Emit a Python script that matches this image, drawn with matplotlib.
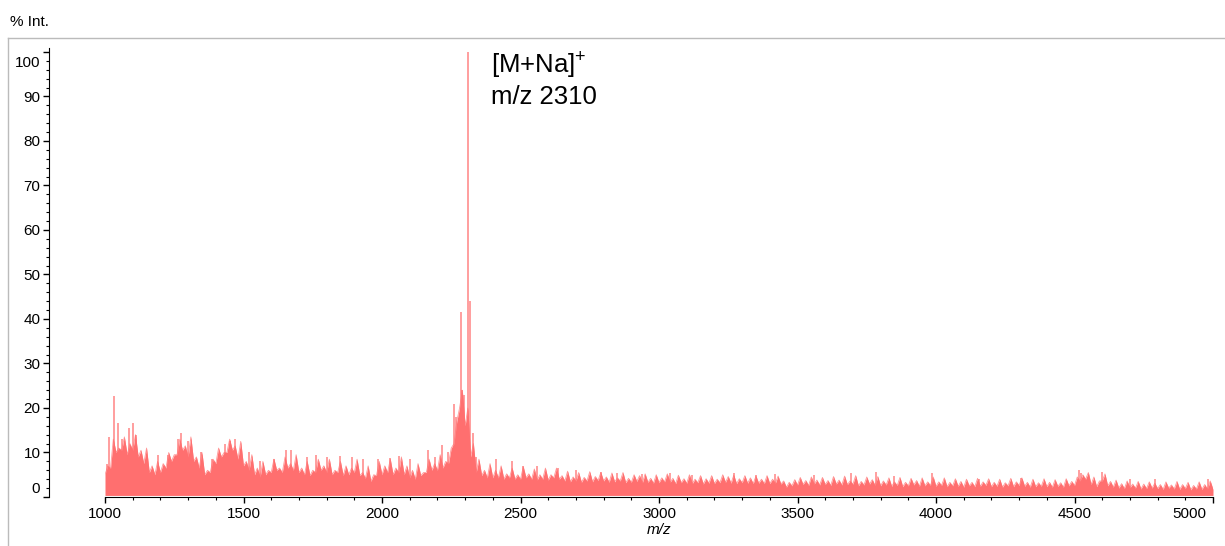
import numpy as np
import matplotlib.pyplot as plt
from matplotlib.lines import Line2D
from matplotlib.ticker import MultipleLocator, FuncFormatter

plt.rcParams['font.family'] = ['Liberation Sans', 'DejaVu Sans']
plt.rcParams['mathtext.fontset'] = 'custom'
plt.rcParams['mathtext.rm'] = 'Liberation Sans'

# lower body of the spectrum, one value every 20 m/z from 1000 to 5000
mz_start, mz_step = 1000, 20
body = [
    5, 6.5, 10, 10.5, 9.5, 10.5, 9, 7.5, 5.5, 5,
    5.5, 6.5, 8, 9.5, 10.5, 9, 8, 6.5, 5, 5.5,
    7.5, 9, 10, 10.5, 8.5, 7, 6, 5, 4.5, 5,
    5.5, 6, 5.5, 6.5, 6, 5.5, 5, 4.8, 5.5, 6,
    5.5, 5, 5.5, 4.8, 5, 5.5, 4.8, 4.2, 3.5, 4.8,
    5, 5.5, 5, 5.5, 5, 4.3, 4, 4.8, 5.5, 6,
    6, 6.5, 7.5, 12, 20, 16, 9, 5.5, 4.8, 4.3,
    4.3, 4.3, 4, 4.3, 4, 4, 4.3, 4, 3.8, 4,
    3.8, 4.3, 4, 3.6, 3.4, 3.6, 3.3, 3.6, 3.4, 3.7,
    3.6, 3.3, 3.4, 3.6, 3.2, 3.3, 3.5, 3.2, 3.3, 3.1,
    3.2, 3.4, 3.3, 3, 3.2, 3.1, 3, 3.2, 2.9, 3.1,
    3, 3.2, 3.3, 3.1, 3, 3.2, 3.1, 3, 3.1, 3,
    3, 3.1, 2.9, 2.2, 2.5, 2.7, 2.8, 2.6, 2.9, 2.7,
    2.8, 2.6, 2.9, 2.7, 2.8, 2.9, 2.5, 2.7, 2.9, 2.6,
    2.5, 2.7, 2.4, 2.6, 2.3, 2.5, 2.7, 2.4, 2.5, 2.6,
    2.4, 2.6, 2.3, 2.5, 2.4, 2.2, 2.5, 2.3, 2.4, 2.6,
    2.3, 2.4, 2.2, 2.5, 2.3, 2.6, 2.4, 2.2, 2.3, 2.4,
    2.3, 2.2, 2.4, 2.2, 2.5, 2.6, 3.6, 4, 2.8, 2.3,
    3.6, 2.5, 2.2, 2, 1.9, 2.1, 2, 1.8, 1.9, 2,
    1.9, 1.7, 2, 1.8, 1.7, 1.9, 1.6, 1.8, 1.7, 1.8,
    1.7,
]
body_mz = mz_start + mz_step * np.arange(len(body))

# noise tips between the body points (1010, 1030, ... 4990)
tips = [
    7, 13, 11, 13.5, 12, 14, 10.5, 11, 7, 8,
    7.5, 10, 9.5, 13, 11.5, 13.5, 9, 10, 6, 8.5,
    11, 10, 13, 11.5, 12.5, 8, 9.5, 6.5, 8, 6,
    8.5, 6.5, 9, 7.5, 9.5, 6.5, 8, 6, 8.5, 7,
    8.5, 6, 8, 7, 6.5, 8.5, 5.5, 7, 5, 8,
    7, 8.5, 6.5, 9, 7, 6, 7.5, 5.5, 8.5, 7.5,
    9.5, 8, 11, 17, 24, 20, 12, 8.5, 6, 7.5,
    6, 7, 5.2, 6.5, 5, 6.8, 5.2, 6.3, 5, 6.5,
    5, 6.5, 4.8, 5.8, 4.5, 5.5, 4.4, 5.7, 4.6, 5.5,
    4.5, 5.4, 4.3, 5.5, 4.2, 5, 4.8, 5.2, 4.2, 5,
    4.3, 5.2, 4.2, 4.9, 4.1, 5, 4, 4.8, 4.1, 4.8,
    4, 5, 4.6, 4.9, 4.1, 4.8, 4.3, 4.7, 4, 4.8,
    4, 4.7, 3.6, 3.3, 3.9, 4.4, 3.7, 4.5, 3.8, 4.4,
    3.7, 4.6, 3.8, 4.7, 3.6, 4.8, 3.5, 4.5, 3.9, 4.6,
    3.6, 4.3, 3.4, 4.4, 3.3, 4.2, 3.7, 4.3, 3.4, 4.5,
    3.4, 4.3, 3.3, 4.1, 3.5, 4, 3.3, 4.2, 3.4, 4.1,
    3.3, 4, 3.2, 4.2, 3.4, 4.3, 3.3, 4, 3.2, 4.1,
    3.3, 3.9, 3.2, 4.1, 3.5, 4.5, 5, 5.5, 4.5, 3.6,
    5.2, 3.5, 3.8, 3, 3.6, 2.9, 3.5, 2.9, 3.4, 3.1,
    2.8, 3.4, 2.7, 3.5, 2.8, 3.3, 2.6, 3.4, 2.8, 3.6,
]
tips_mz = mz_start + mz_step // 2 + mz_step * np.arange(len(tips))

# individual peaks standing above the baseline
peak_mz = [1008, 1016, 1032, 1048, 1062, 1087, 1101, 1112, 1190, 1228,
           1262, 1275, 1300, 1345, 1388, 1432, 1450, 1470, 1520, 1560,
           1610, 1655, 1670, 1730, 1760, 1800, 1848, 1890, 1930, 1985,
           2030, 2060, 2100, 2165, 2190, 2215, 2240, 2259, 2268, 2284,
           2290, 2297, 2310, 2317, 2327, 2340, 2410, 2468, 2510, 2560,
           2634, 2700, 2790, 2850, 2940, 3038, 3120, 3272, 3350, 3420,
           3560, 3694, 3785, 3850, 3987, 4156, 4307, 4517, 4525, 4600,
           4700, 4792, 4982]
peak_int = [7.5, 13.5, 22.7, 16.6, 13, 15.5, 16.6, 14, 9.5, 9.5,
            13, 14.4, 12.5, 10, 8.5, 12, 12.5, 13, 10, 8,
            8.5, 10.5, 10.5, 9, 9.5, 9, 9.2, 9, 8.5, 8.5,
            8.8, 9.2, 8.5, 10.5, 9, 11.7, 10, 21, 18, 41.5,
            24, 23, 100, 44, 14.4, 9, 8.5, 8.2, 7, 7,
            6.5, 6, 5.7, 5.5, 5.2, 5.5, 5, 5.4, 5, 5.2,
            5, 5.5, 5.7, 4.8, 5.5, 4, 4.3, 6.1, 5.5, 5.7,
            4, 4, 4]

# the trace alternates between body points and tips
trace_mz = np.concatenate([body_mz, tips_mz])
trace_int = np.concatenate([body, tips])
order = np.argsort(trace_mz)
trace_mz, trace_int = trace_mz[order], trace_int[order]

red = '#FF6F6F'

fig = plt.figure(figsize=(12.25, 5.46), dpi=100)
ax = fig.add_axes([105 / 1225, 1 - 497 / 546, 1108 / 1225, 449.5 / 546])

ax.fill_between(trace_mz, 0.35, trace_int, color=red, lw=0)
ax.plot(trace_mz, trace_int, color=red, lw=0.6, alpha=0.7)
ax.vlines(peak_mz, 0.35, peak_int, color=red, lw=1.1, alpha=0.85)

ax.set_xlim(1000, 5000)
ax.set_ylim(0, 101)
ax.xaxis.set_major_locator(MultipleLocator(500))
ax.xaxis.set_minor_locator(MultipleLocator(100))
ax.yaxis.set_major_locator(MultipleLocator(10))
ax.yaxis.set_minor_locator(MultipleLocator(2))

# end labels are placed by hand, pulled inside the axis range
ax.xaxis.set_major_formatter(FuncFormatter(lambda v, p: '' if v >= 5000 else f'{v:.0f}'))
ax.yaxis.set_major_formatter(FuncFormatter(lambda v, p: '' if v <= 0 or v >= 100 else f'{v:.0f}'))

for s in ['top', 'right']:
    ax.spines[s].set_visible(False)
ax.spines['left'].set_position(('outward', 40))
ax.tick_params(which='major', length=4, width=1.0, labelsize=11, pad=2.5)
ax.tick_params(which='minor', length=2, width=0.8)
ax.tick_params(axis='x', which='major', pad=3)

fig.text(40 / 1225, 1 - 489 / 546, '0', fontsize=11, ha='right', va='center')
fig.text(40 / 1225, 1 - 63 / 546, '100', fontsize=11, ha='right', va='center')
fig.text(1189 / 1225, 1 - 513.5 / 546, '5000', fontsize=11, ha='center', va='center')

ax.set_xlabel('m/z', fontsize=11, style='italic', labelpad=2)

ax.text(2395, 95.3, r'[M+Na]$^{\mathregular{+}}$', fontsize=18.5, va='baseline')
ax.text(2395, 88.3, 'm/z 2310', fontsize=18.5, va='baseline')

# outer frame and intensity caption
fig.add_artist(Line2D([7.5 / 1225, 1], [1 - 37.5 / 546] * 2,
                      transform=fig.transFigure, color='#BBBBBB', lw=1))
fig.add_artist(Line2D([7.5 / 1225] * 2, [0, 1 - 37.5 / 546],
                      transform=fig.transFigure, color='#BBBBBB', lw=1))
fig.text(10 / 1225, 1 - 22 / 546, '% Int.', fontsize=11, va='center')

fig.savefig('out.png', dpi=100)
